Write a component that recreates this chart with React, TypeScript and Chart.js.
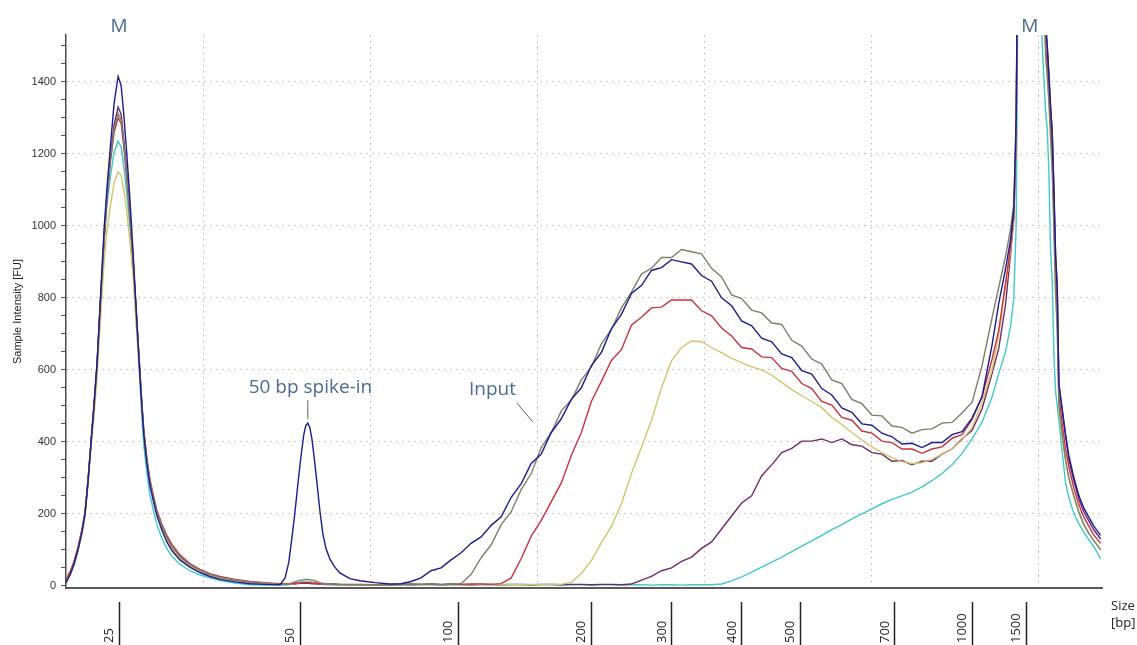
import React, { useEffect, useRef } from 'react';
import { Chart, registerables } from 'chart.js';

Chart.register(...registerables);

// Migration time (s) of each sample point
const timeSec = [
  20.87, 20.99, 21.11, 21.23, 21.35, 21.44, 21.53, 21.62, 21.71, 21.80,
  21.89, 22.01, 22.10, 22.19, 22.31, 22.43, 22.52, 22.60, 22.69, 22.78,
  22.87, 22.93, 22.99, 23.08, 23.14, 23.20, 23.29, 23.38, 23.50, 23.59,
  23.74, 23.89, 24.04, 24.28, 24.58, 24.88, 25.18, 25.48, 25.93, 26.38,
  26.83,
  27.28, 27.43, 27.54, 27.63, 27.72, 27.81, 27.90, 27.99, 28.05, 28.11,
  28.17, 28.23, 28.29, 28.38, 28.47, 28.56, 28.65, 28.77, 28.92, 29.07,
  29.37, 29.67, 30.12, 30.57,
  30.9, 31.2, 31.5, 31.8, 32.1, 32.4, 32.7, 33.0, 33.3, 33.6,
  33.9, 34.2, 34.5, 34.8, 35.1, 35.4, 35.7, 36.0, 36.3, 36.6,
  36.9, 37.2, 37.5, 37.8, 38.1, 38.4, 38.7, 39.0, 39.3, 39.6,
  39.9, 40.2, 40.5, 40.8, 41.1, 41.4, 41.7, 42.0, 42.3, 42.6,
  42.9, 43.2, 43.5, 43.8, 44.1, 44.4, 44.7, 45.0, 45.3, 45.6,
  45.9, 46.2, 46.5, 46.8, 47.1, 47.4, 47.7, 48.0, 48.3, 48.6,
  48.8, 49.0, 49.15, 49.25, 49.32, 49.4, 49.8, 50.0, 50.1, 50.2,
  50.25, 50.3, 50.35, 50.4, 50.45, 50.5, 50.55, 50.6, 50.7, 50.8,
  50.9, 51.05, 51.2, 51.35, 51.5, 51.65, 51.85,
];

const navy = [
  8, 30, 60, 100, 150, 200, 290, 400, 505, 620, 780, 990, 1110, 1210, 1340, 1415, 1390, 1310, 1200, 1080,
  940, 840, 740, 590, 500, 420, 340, 280, 230, 195, 155, 122, 98, 72, 52, 37, 26, 18, 11, 6, 4,
  3, 22, 65, 130, 200, 280, 355, 420, 445, 452, 440, 410, 365, 290, 210, 145, 105, 75, 52, 36, 20, 14, 9, 5,
  6, 12, 22, 42, 50, 72, 92, 118, 136, 168, 192, 246, 284, 340, 366, 426, 464, 518, 550, 612,
  648, 714, 754, 812, 834, 876, 884, 906, 900, 894, 862, 846, 800, 778, 736, 722, 688, 678, 644, 634,
  598, 588, 548, 530, 494, 482, 450, 446, 424, 414, 394, 396, 384, 398, 398, 420, 428, 466, 526, 670,
  785, 880, 960, 1050, 1300, 2200, 3000, 2600, 2000, 1560, 1500, 1420, 1330, 1260, 1100, 920, 830, 560, 490, 420,
  360, 300, 250, 215, 190, 165, 140,
];

const gray = [
  12, 32, 62, 102, 152, 200, 290, 398, 500, 612, 775, 965, 1085, 1175, 1270, 1312, 1295, 1230, 1140, 1035,
  920, 828, 735, 598, 508, 430, 352, 292, 240, 205, 166, 135, 110, 82, 60, 44, 32, 24, 16, 11, 8,
  4, 4, 5, 8, 11, 14, 16, 17, 18, 18, 17, 16, 15, 12, 9, 7, 6, 5, 4, 4, 3, 3, 3, 3,
  4, 5, 4, 6, 3, 5, 6, 32, 78, 114, 170, 206, 268, 312, 384, 426, 486, 516, 572, 608,
  672, 712, 772, 816, 866, 882, 912, 912, 934, 928, 922, 882, 858, 808, 798, 766, 758, 730, 726, 682,
  666, 630, 616, 572, 562, 518, 506, 474, 472, 444, 440, 424, 434, 436, 452, 454, 480, 510, 612, 745,
  830, 915, 990, 1060, 1280, 2200, 3000, 2600, 2000, 1480, 1420, 1350, 1250, 1160, 1000, 820, 720, 500, 420, 350,
  300, 250, 205, 170, 145, 125, 100,
];

const red = [
  18, 38, 68, 108, 158, 205, 295, 400, 500, 615, 770, 960, 1080, 1170, 1260, 1300, 1285, 1220, 1130, 1030,
  915, 825, 730, 600, 510, 432, 355, 298, 246, 210, 172, 140, 115, 86, 62, 46, 34, 26, 18, 12, 9,
  6, 5, 5, 6, 7, 8, 9, 9, 9, 9, 9, 8, 8, 7, 6, 6, 5, 5, 5, 4, 4, 4, 3, 3,
  4, 5, 4, 5, 4, 5, 4, 5, 5, 4, 6, 22, 76, 138, 182, 234, 286, 362, 426, 512,
  568, 626, 656, 724, 746, 772, 774, 794, 794, 794, 764, 750, 716, 694, 662, 658, 636, 634, 604, 596,
  562, 548, 512, 502, 468, 460, 430, 424, 402, 398, 380, 380, 368, 380, 386, 410, 420, 462, 526, 630,
  710, 840, 940, 1030, 1250, 2200, 3000, 2600, 2000, 1500, 1450, 1380, 1280, 1200, 1040, 860, 760, 530, 450, 380,
  330, 270, 225, 190, 165, 140, 118,
];

const yellow = [
  25, 40, 65, 100, 148, 195, 280, 385, 470, 580, 720, 900, 990, 1050, 1120, 1150, 1140, 1100, 1040, 960,
  870, 790, 700, 590, 500, 422, 345, 288, 236, 200, 160, 128, 104, 76, 55, 40, 29, 21, 13, 8, 6,
  4, 4, 4, 5, 6, 8, 9, 10, 10, 10, 10, 9, 8, 7, 6, 5, 4, 4, 4, 3, 3, 3, 2, 2,
  3, 4, 3, 4, 3, 4, 3, 4, 3, 4, 3, 4, 3, 4, 3, 4, 4, 10, 35, 70,
  120, 165, 228, 312, 385, 460, 550, 625, 662, 680, 678, 662, 648, 632, 620, 608, 600, 585, 565, 545,
  528, 512, 495, 468, 448, 426, 405, 386, 370, 356, 345, 340, 342, 352, 365, 380, 405, 440, 510, 600,
  700, 830, 930, 1020, 1240, 2200, 3000, 2600, 2000, 1470, 1410, 1340, 1240, 1150, 990, 800, 700, 490, 410, 345,
  295, 245, 200, 168, 145, 125, 100,
];

const purple = [
  15, 35, 65, 105, 155, 203, 292, 395, 500, 610, 770, 970, 1090, 1180, 1280, 1330, 1310, 1240, 1150, 1040,
  920, 830, 735, 595, 505, 425, 348, 290, 238, 203, 165, 132, 108, 80, 58, 42, 30, 22, 14, 9, 6,
  4, 4, 4, 4, 5, 6, 7, 7, 7, 7, 7, 6, 6, 5, 5, 5, 4, 4, 4, 3, 3, 3, 3, 3,
  4, 3, 4, 4, 3, 4, 4, 3, 4, 4, 3, 4, 4, 3, 4, 4, 3, 4, 4, 3,
  4, 4, 3, 5, 16, 26, 42, 50, 68, 80, 104, 122, 158, 194, 230, 250, 306, 336, 370, 382,
  402, 402, 408, 398, 408, 392, 388, 370, 366, 346, 348, 336, 346, 346, 366, 380, 408, 432, 492, 590,
  660, 780, 920, 1020, 1250, 2200, 3000, 2600, 2000, 1560, 1500, 1420, 1330, 1260, 1100, 920, 830, 560, 485, 415,
  350, 290, 240, 205, 180, 155, 130,
];

const cyan = [
  10, 30, 58, 98, 148, 198, 290, 400, 505, 620, 760, 950, 1060, 1130, 1205, 1235, 1220, 1165, 1090, 1000,
  890, 800, 710, 570, 470, 390, 315, 255, 205, 170, 132, 103, 82, 60, 42, 30, 22, 15, 8, 3, 2,
  2, 2, 3, 5, 7, 9, 11, 12, 12, 12, 11, 10, 9, 7, 5, 4, 3, 3, 2, 2, 2, 2, 2, 2,
  3, 2, 3, 3, 2, 3, 3, 2, 3, 3, 2, 3, 3, 2, 3, 3, 2, 3, 3, 2,
  3, 3, 2, 3, 3, 2, 3, 3, 2, 3, 3, 3, 5, 14, 25, 38, 52, 66, 80, 95,
  110, 125, 140, 156, 170, 186, 200, 214, 228, 240, 250, 260, 275, 292, 312, 336, 368, 408, 455, 525,
  590, 650, 720, 800, 1000, 2000, 3000, 2000, 1500, 1320, 1270, 1150, 930, 850, 640, 540, 500, 460, 370, 285,
  245, 200, 172, 148, 128, 108, 75,
];

// Fragment-size ladder (bp) and the migration time at which each size runs
const sizeLabels = ['25', '50', '100', '200', '300', '400', '500', '700', '1000', '1500'];
const sizeTimes = [22.46, 27.9, 32.63, 36.61, 39.01, 41.11, 42.87, 45.69, 48.02, 49.63];

// Dotted vertical grid (time) and intensity ticks
const gridTimes = [25, 30, 35, 40, 45, 50];
const intensityTicks = [
  0, 50, 100, 150, 200, 250, 300, 350, 400, 450, 500, 550, 600, 650, 700, 750,
  800, 850, 900, 950, 1000, 1050, 1100, 1150, 1200, 1250, 1300, 1350, 1400, 1450, 1500,
];

const seriesNames = ['Input', 'Sample 2', 'Sample 3', 'Sample 4', 'Sample 5', 'Sample 6'];
const seriesValues = [navy, gray, red, yellow, purple, cyan];
const seriesColors = ['#1c1c8c', '#7e7e6c', '#c8323e', '#d3c46c', '#6e2a6e', '#40c8ca'];

const textLabels = [
  { text: 'M', t: 22.46, v: 1552 },
  { text: 'M', t: 49.73, v: 1552 },
  { text: '50 bp spike-in', t: 28.19, v: 552 },
  { text: 'Input', t: 33.64, v: 544 },
];
const pointerLines = [
  { t1: 28.11, v1: 516, t2: 28.11, v2: 463 },
  { t1: 34.37, v1: 508, t2: 34.85, v2: 455 },
];

const overlayPlugin = {
  id: 'overlay',
  afterDraw(chart: any) {
    const ctx = chart.ctx;
    const xs = chart.scales.x;
    const ys = chart.scales.y;
    const bp = chart.scales.xbp;
    ctx.save();
    // size labels (rotated, reading upward)
    ctx.font = '13px "Open Sans"';
    ctx.fillStyle = '#222';
    ctx.textAlign = 'left';
    ctx.textBaseline = 'middle';
    sizeTimes.forEach((t, i) => {
      const px = bp.getPixelForValue(t);
      ctx.save();
      ctx.translate(px - 10, bp.bottom - 2);
      ctx.rotate(-Math.PI / 2);
      ctx.fillText(sizeLabels[i], 0, 0);
      ctx.restore();
    });
    ctx.fillText('Size', chart.chartArea.right + 9, bp.top + 4);
    ctx.fillText('[bp]', chart.chartArea.right + 9, bp.top + 21);

    // annotations
    ctx.font = '19px "Open Sans"';
    ctx.fillStyle = '#4a6b94';
    ctx.textAlign = 'center';
    ctx.textBaseline = 'middle';
    textLabels.forEach((a) => {
      ctx.fillText(a.text, xs.getPixelForValue(a.t), ys.getPixelForValue(a.v));
    });
    ctx.strokeStyle = '#5a6470';
    ctx.lineWidth = 1;
    pointerLines.forEach((l) => {
      ctx.beginPath();
      ctx.moveTo(xs.getPixelForValue(l.t1), ys.getPixelForValue(l.v1));
      ctx.lineTo(xs.getPixelForValue(l.t2), ys.getPixelForValue(l.v2));
      ctx.stroke();
    });
    ctx.restore();
  },
};

export default function App() {
  const canvasRef = useRef<HTMLCanvasElement | null>(null);

  useEffect(() => {
    if (!canvasRef.current) return;
    const chart = new Chart(canvasRef.current, {
      type: 'line',
      data: {
        datasets: seriesValues.map((vals, i) => ({
          label: seriesNames[i],
          data: vals.map((v, j) => ({ x: timeSec[j], y: v })),
          borderColor: seriesColors[i],
          borderWidth: 1.4,
          pointRadius: 0,
          tension: 0,
          fill: false,
        })),
      },
      options: {
        responsive: false,
        animation: false,
        devicePixelRatio: 1,
        layout: { padding: { top: 35, right: 35, bottom: 0, left: 0 } },
        plugins: { legend: { display: false }, tooltip: { enabled: false } },
        scales: {
          x: {
            type: 'linear',
            position: 'bottom',
            min: 20.87,
            max: 51.89,
            afterBuildTicks: (axis: any) => {
              axis.ticks = gridTimes.map((v) => ({ value: v }));
            },
            afterFit: (axis: any) => {
              axis.height = 14;
            },
            ticks: { display: false },
            grid: {
              color: '#b4b4b4',
              lineWidth: 1,
              drawTicks: true,
              tickLength: 14,
              tickColor: 'rgba(0,0,0,0)',
            },
            border: { display: true, color: '#5a5a5a', width: 2, dash: [1.5, 4.5] },
          },
          xbp: {
            type: 'linear',
            position: 'bottom',
            min: 20.87,
            max: 51.89,
            afterBuildTicks: (axis: any) => {
              axis.ticks = sizeTimes.map((v) => ({ value: v }));
            },
            afterFit: (axis: any) => {
              axis.height = 43;
            },
            ticks: { display: false },
            grid: {
              drawOnChartArea: false,
              drawTicks: true,
              tickLength: 43,
              tickColor: '#222',
              tickWidth: 1.5,
            },
            border: { display: false },
          },
          y: {
            type: 'linear',
            min: -6,
            max: 1530,
            afterBuildTicks: (axis: any) => {
              axis.ticks = intensityTicks.map((v) => ({ value: v }));
            },
            afterFit: (axis: any) => {
              axis.width = 66;
            },
            ticks: {
              autoSkip: false,
              padding: 5,
              color: '#333',
              font: { family: '"Liberation Sans", Arial, sans-serif', size: 11 },
              callback: (v: any) => (Number(v) % 200 === 0 ? String(v) : ''),
            },
            grid: {
              color: (c: any) =>
                c.tick && c.tick.value % 200 === 0 && c.tick.value !== 0 ? '#b4b4b4' : 'rgba(0,0,0,0)',
              lineWidth: 1,
              drawTicks: true,
              tickLength: 5,
              tickColor: '#555',
            },
            border: { display: true, color: '#4a4a4a', width: 1.5, dash: [1.5, 4.5] },
            title: {
              display: true,
              text: 'Sample Intensity [FU]',
              color: '#222',
              font: { family: '"Liberation Sans", Arial, sans-serif', size: 11 },
              padding: { top: 11, bottom: 0 },
            },
          },
        },
      },
      plugins: [overlayPlugin],
    });
    return () => chart.destroy();
  }, []);

  return (
    <div style={{ position: 'fixed', left: 0, top: 0, width: 1137, height: 645, background: '#fff' }}>
      <canvas ref={canvasRef} width={1137} height={645} style={{ display: 'block' }} />
    </div>
  );
}
